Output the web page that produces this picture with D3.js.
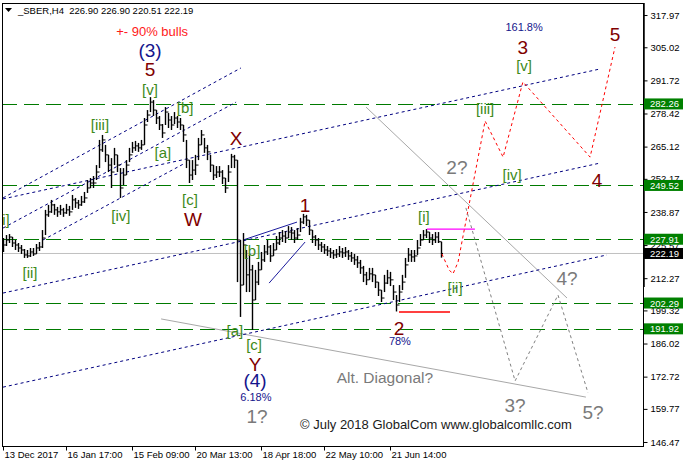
<!DOCTYPE html>
<html><head><meta charset="utf-8">
<script src="https://cdn.jsdelivr.net/npm/d3@7"></script>
<style>
body{margin:0;background:#fff;}
svg{display:block;}
text{font-family:"Liberation Sans",Arial,sans-serif;}
</style>
</head><body>
<svg id="chart" width="683" height="467"></svg>
<script>
// ---------- DATA ----------
const symbolHeader = "_SBER,H4  226.90 226.90 220.51 222.19";
const closes = [225.6,227.6,228.8,226.4,225.6,224.4,223.6,221.6,221.2,222.8,222.0,224.4,224.8,228.4,237.7,238.9,241.7,239.7,238.9,239.7,
238.5,239.7,238.9,243.7,242.5,241.7,242.9,244.5,248.5,250.5,250.5,254.9,263.8,267.8,261.8,257.7,254.9,261.8,257.7,248.5,
253.7,257.7,261.8,264.6,265.4,264.6,265.8,273.8,277.8,283.0,279.8,276.6,273.8,270.6,279.0,275.8,273.8,276.6,275.0,273.8,
269.8,259.7,253.7,255.7,257.7,265.8,269.8,264.6,263.0,257.7,253.7,254.9,254.9,252.5,248.5,254.9,261.0,259.7,227.6,209.5,
225.6,213.6,215.6,203.5,210.7,215.6,219.6,222.8,224.8,221.2,223.6,226.4,228.4,229.2,228.4,230.8,230.4,228.4,229.6,234.8,
236.9,235.6,231.6,228.8,227.6,225.6,224.8,223.6,223.2,222.4,221.6,222.0,222.8,222.4,222.8,221.2,220.4,219.6,218.4,216.4,
213.6,211.6,214.0,213.6,210.7,207.5,204.3,210.3,212.4,211.6,206.7,201.5,206.7,210.7,217.6,221.6,220.8,221.2,224.4,227.6,
229.6,230.8,228.4,227.6,228.8,226.9,222.19];
const highs = [228.4,229.6,230.0,228.8,227.6,226.4,225.6,224.0,223.6,224.4,224.4,226.0,226.8,231.6,239.7,241.7,243.7,242.1,240.9,241.7,
240.5,242.1,241.3,245.7,244.5,243.7,245.3,246.9,251.7,252.5,253.3,257.7,267.8,269.8,265.8,261.8,260.5,264.6,261.8,256.5,
256.5,259.7,264.6,267.0,267.4,266.6,267.8,276.6,279.8,285.0,283.8,279.8,277.4,274.2,281.0,278.6,277.4,279.0,277.4,276.6,
273.8,267.8,259.7,259.7,261.8,268.6,271.8,268.6,265.8,261.8,257.7,257.3,257.3,255.7,252.5,257.7,262.2,261.8,259.7,227.6,
230.4,223.6,221.6,217.6,215.6,218.8,222.8,225.6,227.6,225.6,226.4,229.2,230.8,231.6,231.2,233.2,232.8,231.6,232.4,236.5,
238.1,237.7,235.6,231.6,229.6,228.4,226.8,226.0,225.2,224.4,223.6,224.0,225.2,224.4,224.8,223.6,222.8,222.0,221.2,219.6,
217.2,214.8,216.4,216.4,213.6,210.7,207.5,213.6,215.6,214.8,209.5,205.5,209.5,213.6,220.4,224.4,223.6,223.6,227.6,230.0,
231.6,232.0,230.8,230.0,230.8,230.8,226.90];
const lows = [222.8,225.2,226.4,224.8,223.6,222.8,222.0,220.4,220.4,220.8,221.2,222.0,223.2,224.4,229.6,236.9,238.5,237.7,236.9,237.7,
236.9,238.1,237.3,239.7,240.5,240.1,241.3,242.5,246.5,248.5,248.5,251.7,256.5,263.0,258.9,254.9,248.5,257.7,254.9,244.5,
249.7,253.7,258.9,262.6,263.4,263.0,263.8,265.8,275.0,279.0,277.4,274.2,271.8,268.6,273.8,272.6,271.8,274.2,272.6,271.8,
267.0,256.5,250.5,251.7,253.7,259.7,265.8,262.6,259.7,254.9,251.7,252.5,252.9,250.1,246.5,250.9,256.5,256.5,210.7,196.7,
209.5,206.7,206.7,191.5,203.5,209.5,215.6,218.8,221.6,218.8,221.2,223.6,225.6,226.8,226.4,228.4,227.6,226.4,227.6,230.8,
234.0,233.2,229.6,226.4,225.2,223.6,222.8,222.0,221.2,220.4,220.0,220.4,220.8,220.4,220.8,219.6,218.8,217.6,216.4,214.0,
210.7,209.5,211.6,210.7,208.3,205.1,202.7,206.7,209.9,209.1,203.5,198.9,202.7,207.5,212.4,218.8,218.8,218.8,221.6,225.2,
227.6,228.4,226.4,225.6,226.4,226.4,220.51];
const firstOpen = 226.0;

const xTickIndex = [0,21,43,64,86,107,129];
const xTickLabels = ["13 Dec 2017","16 Jan 17:00","15 Feb 09:00","20 Mar 13:00","18 Apr 18:00","22 May 10:00","21 Jun 14:00"];
const yTickValues = [317.97,305.02,291.72,278.42,265.12,252.17,238.87,225.57,212.27,199.32,186.02,172.72,159.77,146.47];
const levels = [282.26,249.52,227.91,202.29,191.92];
const currentPrice = 222.19;

// annotation geometry in (bar index, price)
const channelLines = [
  [[0,244.1],[199,296.3]],
  [[0,206.3],[199,258.5]],
  [[0,168.5],[201.3,221.6]],
  [[0,244.5],[79.3,296.7]],
  [[0,232.4],[77.7,283.0]],
  [[13.3,227.6],[60.7,258.5]]
];
const wedgeLines = [ [[88.7,210.3],[100.7,226.8]], [[80,227.6],[98,234.8]] ];
const grayLines = [ [[52.7,195.9],[194.3,164.5]], [[121,281.0],[188,204.3]] ];
const magentaLine = [[141.3,232.0],[157.3,232.0]];
const redLevel = [[132,198.7],[149,198.7]];
const mainPath = [[146.3,222.0],[148.7,215.6],[150.0,214.0],[151.7,218.8],[160.7,275.4],[166.7,260.9],[173.3,291.1],[195.7,260.9],[204.0,305.1]];
const altPath = [[154.3,240.5],[170.7,171.0],[185,205.5],[195,166.2]];

const labels = [
  {t:"+- 90% bulls", i:49.7, p:311.5, c:"#ff1a1a", s:13},
  {t:"(3)", i:49, p:303.9, c:"#14148c", s:19},
  {t:"5", i:49, p:295.9, c:"#800000", s:19},
  {t:"[v]", i:49, p:288.2, c:"#3d8a1a", s:15},
  {t:"[b]", i:60.7, p:281.0, c:"#3d8a1a", s:15},
  {t:"[iii]", i:32.3, p:273.8, c:"#3d8a1a", s:15},
  {t:"[a]", i:53.3, p:262.9, c:"#3d8a1a", s:15},
  {t:"[iv]", i:39.3, p:237.6, c:"#3d8a1a", s:15},
  {t:"[c]", i:62.3, p:243.7, c:"#3d8a1a", s:15},
  {t:"W", i:63.3, p:236.0, c:"#800000", s:19},
  {t:"X", i:77.7, p:268.2, c:"#800000", s:19},
  {t:"[i]", i:0.3, p:236.0, c:"#3d8a1a", s:15},
  {t:"[ii]", i:9, p:214.7, c:"#3d8a1a", s:15},
  {t:"1", i:100.7, p:241.6, c:"#800000", s:19},
  {t:"[b]", i:83, p:223.2, c:"#3d8a1a", s:15},
  {t:"[a]", i:77.3, p:191.4, c:"#3d8a1a", s:15},
  {t:"[c]", i:83.7, p:185.8, c:"#3d8a1a", s:15},
  {t:"Y", i:84, p:177.6, c:"#800000", s:19},
  {t:"(4)", i:84, p:171.0, c:"#14148c", s:19},
  {t:"6.18%", i:84.3, p:164.5, c:"#14148c", s:11},
  {t:"1?", i:84.7, p:156.9, c:"#7a7a7a", s:19},
  {t:"Alt. Diagonal?", i:127.3, p:172.2, c:"#7a7a7a", s:15.5},
  {t:"2", i:132, p:192.2, c:"#800000", s:19},
  {t:"78%", i:132.3, p:187.0, c:"#14148c", s:11},
  {t:"[i]", i:140.3, p:237.2, c:"#3d8a1a", s:15},
  {t:"[ii]", i:150.7, p:208.7, c:"#3d8a1a", s:15},
  {t:"2?", i:151.3, p:256.9, c:"#7a7a7a", s:19},
  {t:"[iii]", i:160.7, p:280.6, c:"#3d8a1a", s:15},
  {t:"[iv]", i:169.7, p:254.1, c:"#3d8a1a", s:15},
  {t:"[v]", i:173.7, p:297.5, c:"#3d8a1a", s:15},
  {t:"3", i:173.3, p:305.1, c:"#800000", s:19},
  {t:"161.8%", i:173.7, p:313.2, c:"#14148c", s:11},
  {t:"5", i:204, p:310.3, c:"#800000", s:19},
  {t:"4", i:198, p:251.7, c:"#800000", s:19},
  {t:"4?", i:188, p:212.3, c:"#7a7a7a", s:19},
  {t:"3?", i:170.7, p:161.3, c:"#7a7a7a", s:19},
  {t:"5?", i:196.7, p:158.5, c:"#7a7a7a", s:19},
  {t:"\u00A9 July 2018 GlobalCom www.globalcomllc.com", i:144.3, p:153.3, c:"#1a1a1a", s:13}
];

// ---------- CHART ----------
const W = 683, H = 467;
const plot = {l:2, r:643, t:3, b:446};
const svg = d3.select("#chart");
const x = d3.scaleLinear().domain([-1/3, 640/3]).range([plot.l, plot.r]);
const y = d3.scaleLinear().domain([144.86, 322.4]).range([plot.b, plot.t + 1]);

svg.append("defs").append("clipPath").attr("id","clip")
  .append("rect").attr("x",plot.l+1).attr("y",plot.t+1).attr("width",plot.r-plot.l-1).attr("height",plot.b-plot.t-1);
const g = svg.append("g").attr("clip-path","url(#clip)");
const line = d3.line().x(d=>x(d[0])).y(d=>y(d[1]));

g.append("line").attr("x1",plot.l).attr("x2",plot.r).attr("y1",y(currentPrice)).attr("y2",y(currentPrice))
  .attr("stroke","#c0c0c0").attr("stroke-width",1);

g.selectAll(".lvl").data(levels).join("line")
  .attr("x1",plot.l).attr("x2",plot.r)
  .attr("y1",d=>Math.round(y(d))+0.5).attr("y2",d=>Math.round(y(d))+0.5)
  .attr("stroke","#007a00").attr("stroke-width",1).attr("stroke-dasharray","15,7");

g.selectAll(".gl").data(grayLines).join("path").attr("d",line)
  .attr("fill","none").attr("stroke","#a8a8a8").attr("stroke-width",1);

g.selectAll(".ch").data(channelLines).join("path").attr("d",line)
  .attr("fill","none").attr("stroke","#000080").attr("stroke-width",1).attr("stroke-dasharray","3,3");

g.selectAll(".wd").data(wedgeLines).join("path").attr("d",line)
  .attr("fill","none").attr("stroke","#1a1a9c").attr("stroke-width",1);

const bars = closes.map((c,i)=>({i, o: i===0?firstOpen:closes[i-1], h: highs[i], l: lows[i], c}));
const bg = g.append("g");
bars.forEach(b=>{
  const xx = Math.round(x(b.i))+0.5;
  bg.append("line").attr("x1",xx).attr("x2",xx).attr("y1",y(b.h)).attr("y2",y(b.l)).attr("stroke","#000").attr("stroke-width",1.4);
  bg.append("line").attr("x1",xx-1.5).attr("x2",xx).attr("y1",y(b.o)).attr("y2",y(b.o)).attr("stroke","#000").attr("stroke-width",1);
  bg.append("line").attr("x1",xx).attr("x2",xx+1.5).attr("y1",y(b.c)).attr("y2",y(b.c)).attr("stroke","#000").attr("stroke-width",1);
});

g.append("path").attr("d",line(magentaLine)).attr("stroke","#ff00ff").attr("stroke-width",1.2).attr("fill","none");
g.append("path").attr("d",line(redLevel)).attr("stroke","#ff0000").attr("stroke-width",1.5).attr("fill","none");

g.append("path").attr("d",line(mainPath)).attr("fill","none").attr("stroke","#ff0000").attr("stroke-width",1).attr("stroke-dasharray","3,3");
g.append("path").attr("d",line(altPath)).attr("fill","none").attr("stroke","#808080").attr("stroke-width",1).attr("stroke-dasharray","3,3");

g.selectAll(".lb").data(labels).join("text")
  .attr("x",d=>x(d.i)).attr("y",d=>y(d.p))
  .attr("text-anchor","middle").attr("dominant-baseline","central")
  .attr("fill",d=>d.c).attr("font-size",d=>d.s+"px").text(d=>d.t);

svg.append("rect").attr("x",plot.l+0.5).attr("y",plot.t+0.5).attr("width",plot.r-plot.l).attr("height",plot.b-plot.t)
  .attr("fill","none").attr("stroke","#000").attr("stroke-width",1);
svg.append("line").attr("x1",plot.r+1).attr("x2",plot.r+1).attr("y1",plot.t).attr("y2",287).attr("stroke","#000").attr("stroke-width",1.5);

const ya = d3.axisRight(y).tickValues(yTickValues).tickFormat(d3.format(".2f")).tickSize(4).tickPadding(3);
const yg = svg.append("g").attr("transform",`translate(${plot.r+0.5},0)`).call(ya);
yg.select(".domain").remove();
yg.selectAll("text").attr("font-size","9.5px").attr("font-family","Liberation Sans, Arial, sans-serif").attr("fill","#000");
yg.selectAll("line").attr("stroke","#000");

const boxes = levels.map(v=>({v, bg:"#008000"})).concat([{v:currentPrice,bg:"#000"}]);
const bxg = svg.append("g");
boxes.forEach(b=>{
  const yy = y(b.v);
  bxg.append("rect").attr("x",plot.r+1).attr("y",yy-5.5).attr("width",W-plot.r-1).attr("height",11).attr("fill",b.bg);
  bxg.append("text").attr("x",plot.r+7).attr("y",yy).attr("dominant-baseline","central")
    .attr("font-size","9.5px").attr("fill","#fff").text(d3.format(".2f")(b.v));
});

const xa = d3.axisBottom(x).tickValues(xTickIndex).tickFormat((d,k)=>xTickLabels[k]).tickSize(4).tickPadding(1);
const xg = svg.append("g").attr("transform",`translate(0,${plot.b+0.5})`).call(xa);
xg.select(".domain").remove();
xg.selectAll("text").attr("text-anchor","start").attr("dx","1").attr("font-size","9.5px")
  .attr("font-family","Liberation Sans, Arial, sans-serif").attr("fill","#000");
xg.selectAll("line").attr("stroke","#000");

svg.append("path").attr("d","M5,8 L12,8 L8.5,12 Z").attr("fill","#000");
svg.append("text").attr("x",18).attr("y",14).attr("font-size","9.5px").attr("fill","#000")
  .attr("xml:space","preserve").style("white-space","pre").text(symbolHeader);
</script>
</body></html>
